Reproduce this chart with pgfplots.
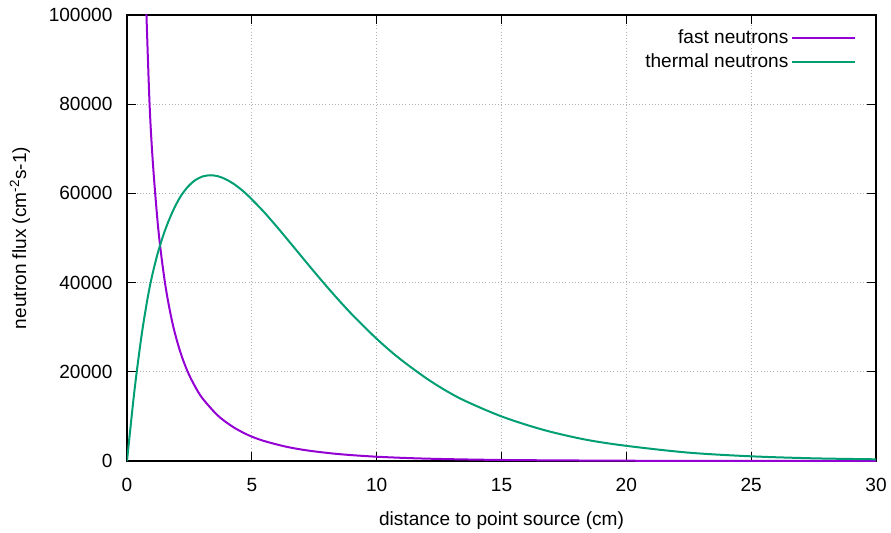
\documentclass[border=0pt]{standalone}
\usepackage{fontspec}
\setmainfont{Liberation Sans}
\usepackage{pgfplots}
\pgfplotsset{compat=1.18}

\definecolor{fastc}{HTML}{9400D3}
\definecolor{thermc}{HTML}{009E73}

\begin{document}
\fontsize{14.3pt}{17pt}\selectfont
\begin{tikzpicture}
\begin{axis}[
    name=ax,
    scale only axis,
    width=561.75pt, height=334.5pt,
    xmin=0, xmax=30,
    ymin=0, ymax=100000,
    xtick={0,5,...,30},
    ytick={0,20000,40000,60000,80000,100000},
    scaled y ticks=false,
    /pgf/number format/fixed,
    /pgf/number format/1000 sep={},
    /pgf/number format/assume math mode=true,
    tick align=inside,
    major tick length=6.75pt,
    tick style={black, line width=0.8pt},
    axis line style={black, line width=0.9pt},
    grid=major,
    major grid style={gray!60, dotted, line width=0.8pt},
    yticklabel style={xshift=-6pt},
    xticklabel style={yshift=-8pt},
    xlabel={distance to point source (cm)},
    ylabel={neutron flux (cm\textsuperscript{-2}s-1)},
    xlabel style={at={(axis description cs:0.5,-0.1345)}, anchor=center},
    ylabel style={at={(axis description cs:-0.1429,0.5)}, anchor=center},
    legend style={at={(1,1)}, anchor=north east, xshift=-12pt, yshift=-7pt,
        draw=none, fill=none, cells={anchor=east}, row sep=1pt},
    legend plot pos=right,
    legend image code/.code={\path (0pt,0pt) -- (8pt,0pt); \draw[#1] (8pt,0pt) -- (47pt,0pt);},
]

% fast neutrons
\addplot[fastc, line width=1.5pt, smooth, tension=0.5] coordinates {
    (0.606,131500) (0.909,79400) (1.212,54500) (1.515,40200) (1.818,31000)
    (2.121,24700) (2.424,20100) (2.727,16700) (3.03,14000) (3.636,10200)
    (4.242,7650) (4.848,5830) (5.455,4550) (6.364,3220) (7.273,2330)
    (8.485,1550) (10,960) (12,530) (15,232) (20,64) (25,19) (30,6)
};
\addlegendentry{fast neutrons}

% thermal neutrons
\addplot[thermc, line width=1.5pt, smooth, tension=0.5] coordinates {
    (0,0) (0.303,16000) (0.606,29000) (0.909,39000) (1.212,46200)
    (1.515,51600) (1.818,55800) (2.121,59100) (2.424,61400) (2.727,62950)
    (3.03,63800) (3.333,64070) (3.636,63860) (3.939,63220) (4.242,62250)
    (4.545,61000) (4.848,59500) (5.455,56020) (6.061,52130) (6.667,48050)
    (7.273,43940) (7.879,39910) (8.485,36050) (9.091,32400) (10,27400)
    (10.909,23000) (12.121,18050) (13.333,14050) (15,10000) (16.667,7000)
    (18.333,4830) (20,3400) (22.5,1870) (25,1050) (27.5,600) (30,380)
};
\addlegendentry{thermal neutrons}

\end{axis}
\pgfresetboundingbox
\path ([xshift=-95.25pt,yshift=-53.25pt]ax.south west) rectangle ([xshift=11.25pt,yshift=11.25pt]ax.north east);
\end{tikzpicture}
\end{document}
